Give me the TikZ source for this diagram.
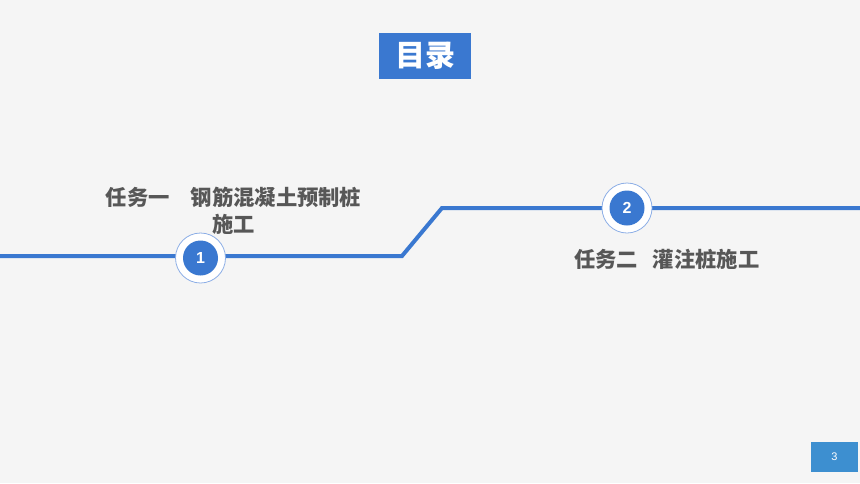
\documentclass[tikz,border=0pt]{standalone}
\usepackage{fontspec}
\setmainfont{Liberation Sans}
\newfontfamily\cjk{Noto Sans CJK SC}
\definecolor{bg}{HTML}{F5F5F5}
\definecolor{mainblue}{HTML}{3A78D0}
\definecolor{ringblue}{HTML}{8CAEE6}
\definecolor{pageblue}{HTML}{3D8FD0}
\definecolor{txtgray}{HTML}{575757}
\tikzset{
  track/.style={draw=mainblue, line width=4pt},
  outerdot/.style={circle, fill=white, draw=ringblue, line width=0.8pt, minimum size=50pt, inner sep=0pt},
  innerdot/.style={circle, fill=mainblue, minimum size=35pt, inner sep=0pt, text=white, font=\bfseries\fontsize{16}{16}\selectfont},
  tasktext/.style={text=txtgray, font=\cjk\bfseries\fontsize{21.3}{27}\selectfont, align=center, inner sep=0pt},
}
\begin{document}
\begin{tikzpicture}[x=1pt,y=-1pt]
\fill[bg] (0,0) rectangle (860,483);
\useasboundingbox (0,0) rectangle (860,483);
% title
\node[fill=mainblue, minimum width=92pt, minimum height=46pt, inner sep=0pt, text=white, font=\cjk\bfseries\fontsize{30}{30}\selectfont] (title) at (425,56) {目录};
% track
\coordinate (s) at (0,256);
\coordinate (b1) at (402,256);
\coordinate (b2) at (442,208);
\coordinate (e) at (860,208);
\draw[track] (s) -- (b1) -- (b2) -- (e);
% circles
\node[outerdot] (o1) at (200.5,258) {};
\node[innerdot] (c1) at (o1) {1};
\node[outerdot] (o2) at (627,208) {};
\node[innerdot] (c2) at (o2) {2};
% labels
\node[tasktext] (t1) at (233.5,211) {任务一\hspace{1em}钢筋混凝土预制桩\\施工};
\node[tasktext, anchor=west] (t2) at (574,259) {任务二\hspace{0.7em}灌注桩施工};
% page number
\node[fill=pageblue, minimum width=47pt, minimum height=30pt, inner sep=0pt, text=white, font=\fontsize{11}{11}\selectfont] (pg) at (834.5,456.5) {3};
\end{tikzpicture}
\end{document}
